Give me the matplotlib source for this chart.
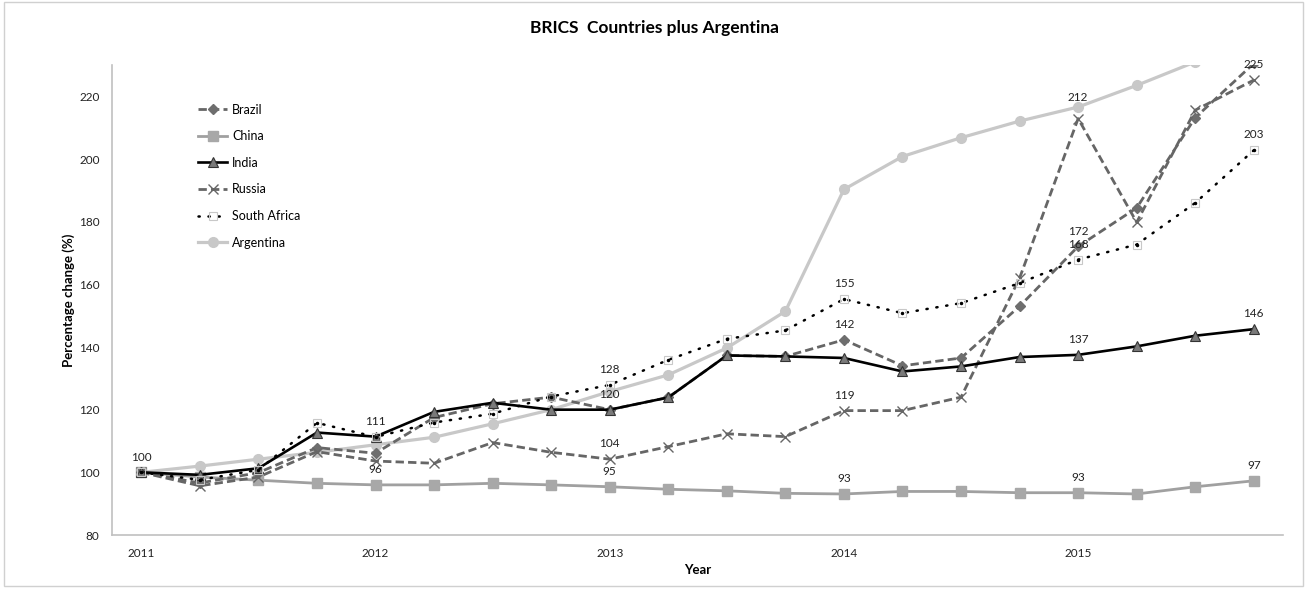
import matplotlib.pyplot as plt
from matplotlib.patches import Rectangle

plt.rcParams['font.family'] = ['Lato', 'DejaVu Sans']

# Quarterly index values, 2011 Q1 = 100
quarters = list(range(20))
year_ticks = [0, 4, 8, 12, 16]
year_labels = ['2011', '2012', '2013', '2014', '2015']

brazil = [100, 96.6, 99.9, 107.9, 106.1, 117.5, 121.9, 124.0, 120.0, 123.9,
          137.3, 137.0, 142.3, 134.0, 136.5, 153.0, 172.1, 184.4, 213.2, 230.5]
china = [100, 98.5, 97.5, 96.5, 96.0, 96.0, 96.5, 96.0, 95.4, 94.6,
         94.1, 93.3, 93.1, 93.9, 93.9, 93.5, 93.5, 93.1, 95.4, 97.3]
india = [100, 99.2, 101.3, 112.7, 111.4, 119.3, 122.2, 120.0, 120.0, 123.9,
         137.3, 137.0, 136.5, 132.2, 133.8, 136.8, 137.5, 140.2, 143.6, 145.7]
russia = [100, 95.7, 98.5, 106.6, 103.6, 102.9, 109.5, 106.4, 104.2, 108.2,
          112.3, 111.4, 119.7, 119.7, 124.0, 162.0, 212.9, 179.8, 215.6, 225.2]
south_africa = [100, 97.6, 100.8, 115.8, 111.3, 115.9, 118.7, 124.2, 127.9, 135.9,
                142.6, 145.3, 155.3, 150.8, 154.0, 160.4, 167.9, 172.7, 186.0, 202.8]
argentina = [100, 102.0, 104.2, 106.4, 108.8, 111.2, 115.5, 120.0, 125.8, 131.1,
             139.7, 151.4, 190.3, 200.8, 206.8, 212.1, 216.6, 223.5, 231.0, 238.0]

# data labels: (series, quarter index, text)
point_labels = [
    ('china', 0, '100'), ('india', 4, '111'), ('china', 4, '96'),
    ('south_africa', 8, '128'), ('india', 8, '120'), ('russia', 8, '104'), ('china', 8, '95'),
    ('south_africa', 12, '155'), ('brazil', 12, '142'), ('russia', 12, '119'), ('china', 12, '93'),
    ('argentina', 16, '212'), ('brazil', 16, '172'), ('south_africa', 16, '168'),
    ('india', 16, '137'), ('china', 16, '93'),
    ('russia', 19, '225'), ('south_africa', 19, '203'), ('india', 19, '146'), ('china', 19, '97'),
]

series = {'brazil': brazil, 'china': china, 'india': india, 'russia': russia,
          'south_africa': south_africa, 'argentina': argentina}

fig = plt.figure(figsize=(13.07, 5.90), dpi=100)
ax = fig.add_axes([0.0857, 0.0932, 0.8960, 0.7966])

ax.plot(quarters, brazil, color='#666666', lw=2, ls=(0, (3, 1.5)),
        marker='D', ms=5.5, mfc='#6e6e6e', mec='#6e6e6e', label='Brazil', zorder=4)
ax.plot(quarters, china, color='#a0a0a0', lw=2, marker='s', ms=7,
        mfc='#a8a8a8', mec='#a8a8a8', label='China', zorder=3)
ax.plot(quarters, india, color='black', lw=1.9, marker='^', ms=7,
        mfc='#7a7a7a', mec='#333333', mew=0.8, label='India', zorder=5)
ax.plot(quarters, russia, color='#666666', lw=2, ls=(0, (3, 1.5)),
        marker='x', ms=7, mec='#666666', mew=1, label='Russia', zorder=4)
ax.plot(quarters, south_africa, color='black', lw=1.8, ls=(0, (0.5, 3.5)),
        dash_capstyle='round', marker='s', ms=6, mfc='none', mec='#c8c8c8',
        mew=0.8, label='South Africa', zorder=6)
ax.plot(quarters, south_africa, ls='none', marker='.', ms=3, color='black', zorder=7)
ax.plot(quarters, argentina, color='#c8c8c8', lw=2.3, marker='o', ms=7,
        mfc='#c8c8c8', mec='#c8c8c8', label='Argentina', zorder=2)

for name, idx, text in point_labels:
    offset = 7 if text == '212' else 11
    ax.annotate(text, (idx, series[name][idx]), xytext=(0, offset),
                textcoords='offset points', ha='center', va='center',
                fontsize=8.5, color='#222222', zorder=8)

ax.set_xlim(-0.5, 19.5)
ax.set_ylim(80, 230)
ax.set_yticks(range(80, 221, 20))
ax.set_xticks(year_ticks)
ax.set_xticklabels(year_labels)
ax.tick_params(length=0, labelsize=8.5, colors='#222222')
ax.tick_params(axis='y', pad=9)
ax.tick_params(axis='x', pad=9)

for side in ['top', 'right']:
    ax.spines[side].set_visible(False)
for side in ['left', 'bottom']:
    ax.spines[side].set_color('#c0c0c0')
    ax.spines[side].set_linewidth(1.2)

ax.set_xlabel('Year', fontsize=9.5, fontweight='bold', labelpad=4)
ax.set_ylabel('Percentage change (%)', fontsize=9.5, fontweight='bold', labelpad=3)
fig.text(0.501, 0.953, 'BRICS  Countries plus Argentina', ha='center', va='center',
         fontsize=12.5, fontweight='bold')

leg = ax.legend(loc='upper left', bbox_to_anchor=(0.064, 0.942), frameon=False,
                fontsize=9, handlelength=2.3, handletextpad=0.4, labelspacing=1.17)

fig.patches.append(Rectangle((0.003, 0.006), 0.994, 0.99, transform=fig.transFigure,
                             fill=False, edgecolor='#d0d0d0', lw=1))

fig.savefig('out.png', dpi=100)
